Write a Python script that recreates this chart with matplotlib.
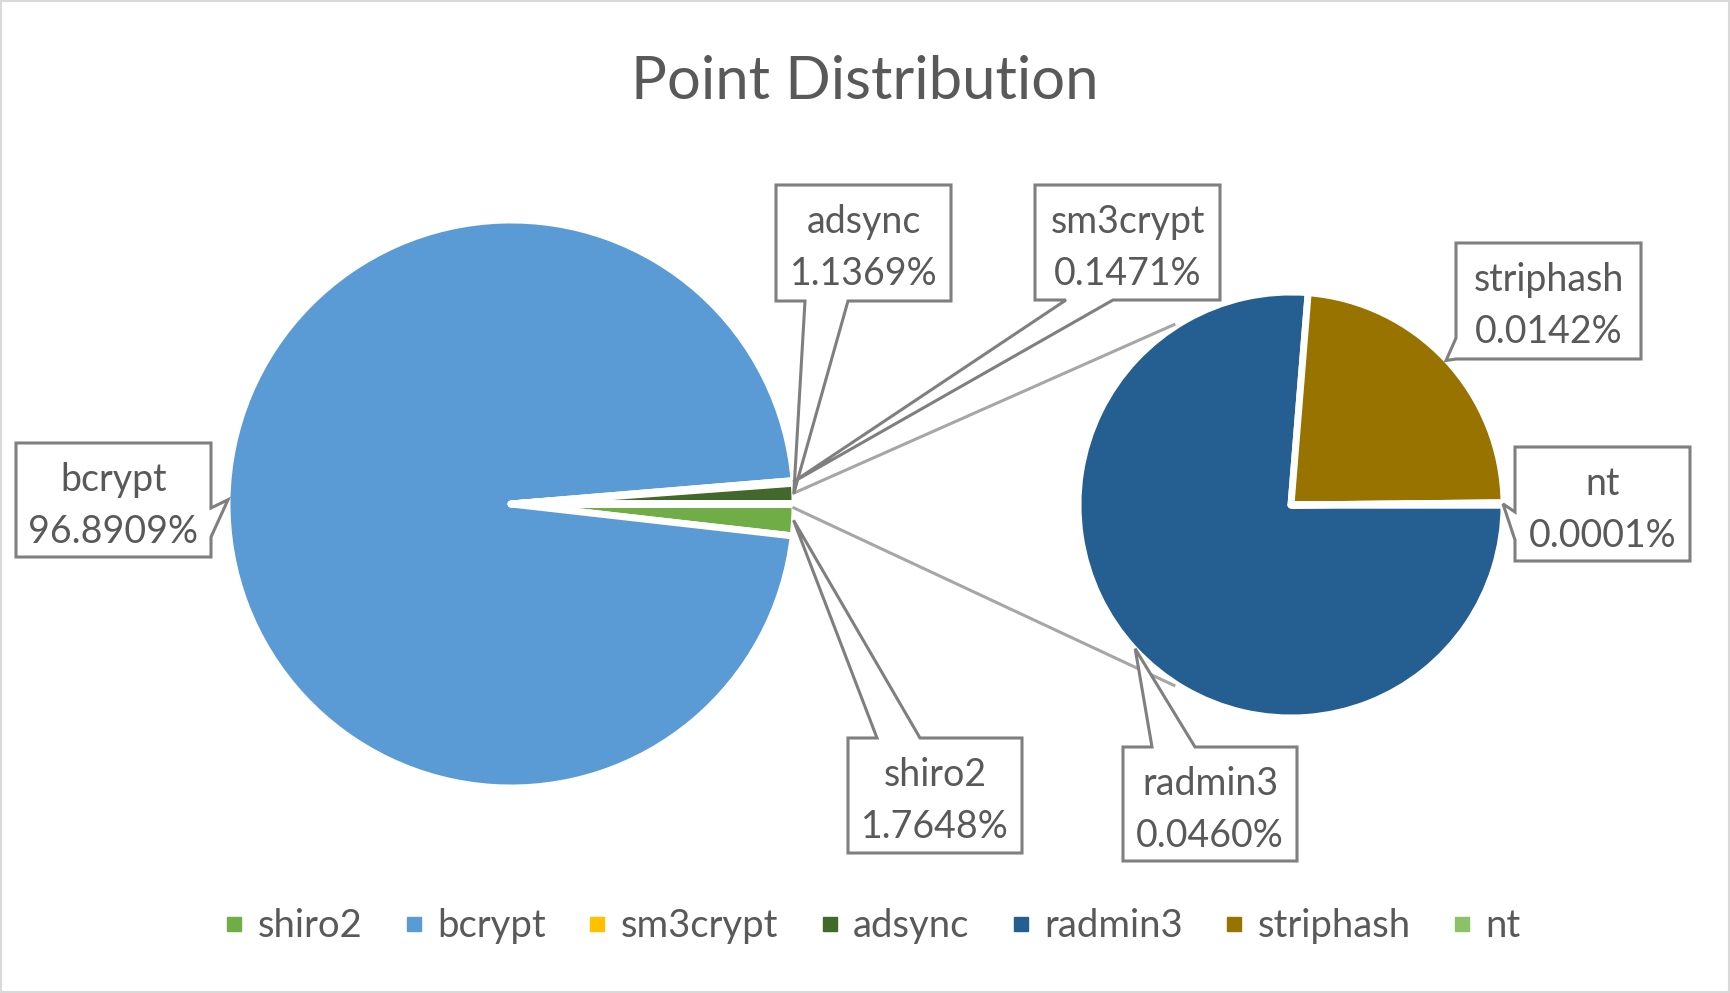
import matplotlib
matplotlib.use("Agg")
import matplotlib.pyplot as plt
import numpy as np
from matplotlib.lines import Line2D
from matplotlib.patches import Polygon, Rectangle

plt.rcParams["font.family"] = ["Lato", "DejaVu Sans"]

# data (percent of all points)
MAIN_LABELS = ["shiro2", "bcrypt", "sm3crypt", "adsync"]
MAIN_VALUES = [1.7648, 96.8909, 0.1471, 1.1369]
MAIN_COLORS = ["#70AD47", "#5B9BD5", "#FFC000", "#43682B"]

# these go into the second pie ("other" slice of the first one)
SUB_LABELS = ["radmin3", "striphash", "nt"]
SUB_VALUES = [0.0460, 0.0142, 0.0001]
SUB_COLORS = ["#255E91", "#997300", "#8CC168"]

TEXT = "#595959"
W, H = 1730, 993

# layout, in pixels (y down)
MAIN_C, MAIN_R = (511, 504), 284
SUB_C, SUB_R = (1291, 505), 213
EDGE = 5

# label boxes: x0, y0, x1, y1, side of the pointer, pointer base start/end
BOXES = {
    "bcrypt":    (16, 443, 211, 557, "right", 508, 537),
    "adsync":    (776, 185, 951, 301, "bottom", 805, 848),
    "sm3crypt":  (1035, 185, 1220, 300, "bottom", 1066, 1113),
    "shiro2":    (848, 738, 1022, 853, "top", 877, 920),
    "radmin3":   (1123, 747, 1297, 861, "top", 1152, 1195),
    "striphash": (1456, 243, 1641, 359, "left", 338, 359),
    "nt":        (1515, 447, 1690, 561, "left", 512, 540),
}


def callout_path(x0, y0, x1, y1, side, b0, b1, tip):
    pts = [(x0, y0)]
    if side == "top":
        pts += [(b0, y0), tip, (b1, y0)]
    pts.append((x1, y0))
    if side == "right":
        pts += [(x1, b0), tip, (x1, b1)]
    pts.append((x1, y1))
    if side == "bottom":
        pts += [(b1, y1), tip, (b0, y1)]
    pts.append((x0, y1))
    if side == "left":
        pts += [(x0, b1), tip, (x0, b0)]
    return pts


def edge_point(center, r, deg):
    a = np.deg2rad(deg)
    return (center[0] + r * np.cos(a), center[1] + r * np.sin(a))


fig = plt.figure(figsize=(W / 100, H / 100), dpi=100)
ax = fig.add_axes([0, 0, 1, 1])

wp = dict(edgecolor="white", linewidth=EDGE, joinstyle="round")
main_vals = MAIN_VALUES + [sum(SUB_VALUES)]
main_wedges, _ = ax.pie(main_vals, colors=MAIN_COLORS + ["white"], center=MAIN_C,
                        radius=MAIN_R, startangle=0.11, counterclock=True,
                        wedgeprops=wp, normalize=True)
sub_wedges, _ = ax.pie(SUB_VALUES, colors=SUB_COLORS, center=SUB_C,
                       radius=SUB_R, startangle=0, counterclock=True,
                       wedgeprops=wp, normalize=True)

ax.set_xlim(0, W)
ax.set_ylim(H, 0)
ax.set_aspect("equal")
ax.axis("off")

# connector lines between the two pies
for a_main, a_sub in [(-2.2, -123), (0.8, 123)]:
    p0 = edge_point(MAIN_C, MAIN_R - 1, a_main)
    p1 = edge_point(SUB_C, SUB_R + 2, a_sub)
    ax.plot([p0[0], p1[0]], [p0[1], p1[1]], color="#A6A6A6", lw=2.2, zorder=3)

# data labels
tips = {}
for w, name, v in zip(main_wedges, MAIN_LABELS, MAIN_VALUES):
    tips[name] = (edge_point(MAIN_C, MAIN_R - 1, (w.theta1 + w.theta2) / 2), v)
for w, name, v in zip(sub_wedges, SUB_LABELS, SUB_VALUES):
    tips[name] = (edge_point(SUB_C, SUB_R - 1, (w.theta1 + w.theta2) / 2), v)

for name, (x0, y0, x1, y1, side, b0, b1) in BOXES.items():
    tip, val = tips[name]
    poly = Polygon(callout_path(x0, y0, x1, y1, side, b0, b1, tip), closed=True,
                   facecolor="white", edgecolor="#7F7F7F", lw=2.2, zorder=4)
    ax.add_patch(poly)
    xc = (x0 + x1) / 2
    ax.text(xc, y0 + 48, name, ha="center", va="baseline", fontsize=27, color=TEXT, zorder=5)
    ax.text(xc, y0 + 100, f"{val:.4f}%", ha="center", va="baseline", fontsize=27, color=TEXT, zorder=5)

ax.text(W / 2, 99, "Point Distribution", ha="center", va="baseline", fontsize=43, color=TEXT)

handles = [Line2D([], [], marker="s", linestyle="none", markersize=9.5,
                  markerfacecolor=c, markeredgecolor=c)
           for c in MAIN_COLORS + SUB_COLORS]
ax.legend(handles, MAIN_LABELS + SUB_LABELS, loc="center",
          bbox_to_anchor=(0.5045, 1 - 926 / H), bbox_transform=fig.transFigure,
          ncol=7, frameon=False, fontsize=27.5, labelcolor=TEXT,
          handlelength=0.5, handletextpad=0.36, columnspacing=1.1)

# chart border
ax.add_patch(Rectangle((1, 1), W - 2, H - 2, fill=False, edgecolor="#D9D9D9", lw=1.5, zorder=6))

fig.savefig("out.png", dpi=100)
